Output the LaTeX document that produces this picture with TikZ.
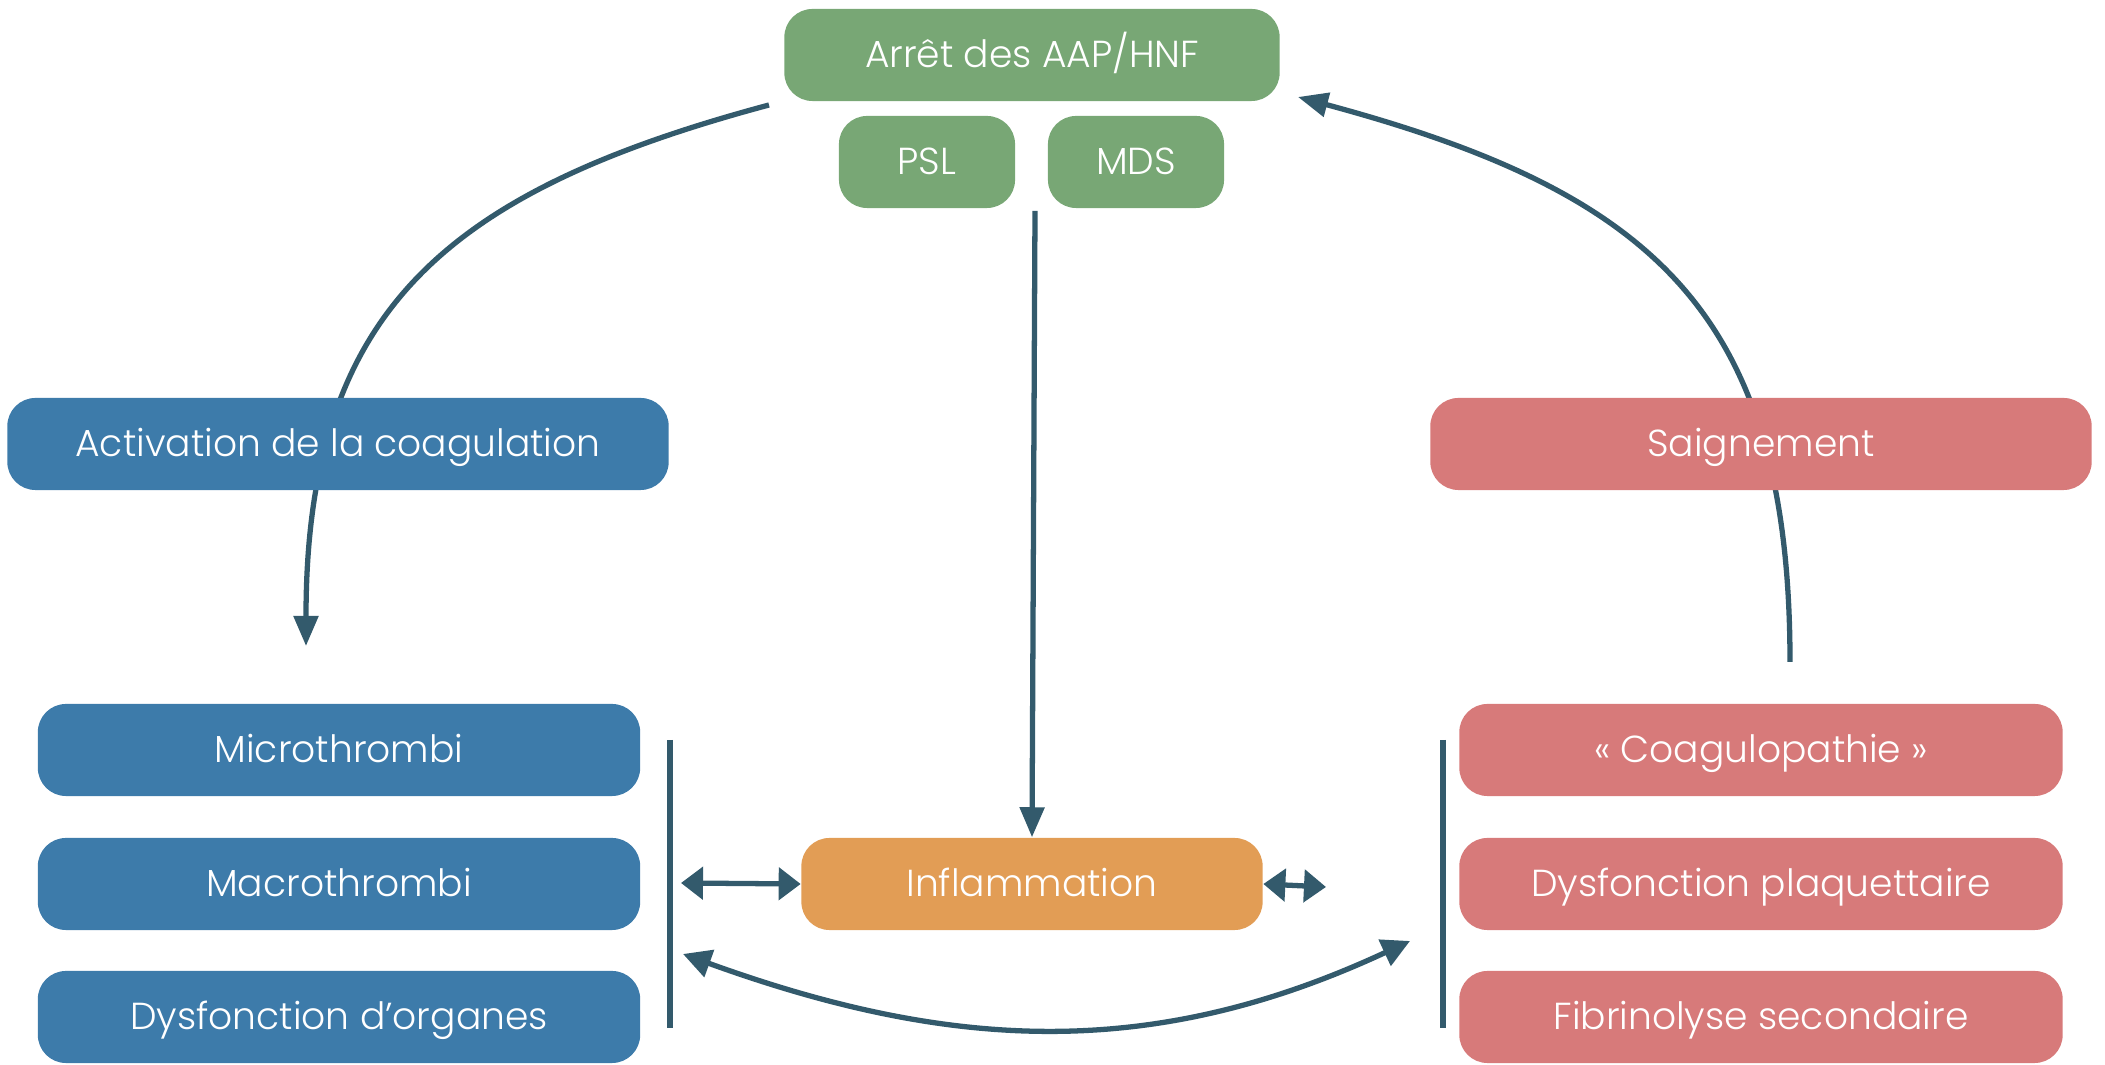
\documentclass[tikz,border=0pt]{standalone}
\usepackage{fontspec}
\setmainfont{Poppins}[UprightFont={* Light}]
\usetikzlibrary{positioning,backgrounds,arrows.meta}
\definecolor{aapgreen}{HTML}{78A775}
\definecolor{coagblue}{HTML}{3D7BAA}
\definecolor{bleedred}{HTML}{D77A7A}
\definecolor{inflorange}{HTML}{E29D55}
\definecolor{linkblue}{HTML}{335A6C}
\tikzset{
  grb/.style={fill=aapgreen, rounded corners=8pt, text=white, align=center,
    inner sep=0pt, minimum height=9.2mm, text height=0.7em, text depth=0pt},
  blb/.style={fill=coagblue, rounded corners=8pt, text=white, align=center,
    inner sep=0pt, minimum height=9.2mm, minimum width=6.02cm, text height=0.7em, text depth=0pt},
  rdb/.style={fill=bleedred, rounded corners=8pt, text=white, align=center,
    inner sep=0pt, minimum height=9.2mm, minimum width=6.03cm, text height=0.7em, text depth=0pt},
  orb/.style={fill=inflorange, rounded corners=8pt, text=white, align=center,
    inner sep=0pt, minimum height=9.2mm, text height=0.7em, text depth=0pt},
  flow/.style={-{Triangle[length=3mm, width=2.4mm]}, line width=1.5pt, draw=linkblue},
  dflow/.style={{Triangle[length=2.2mm, width=3.2mm]}-{Triangle[length=2.2mm, width=3.2mm]},
    line width=1.5pt, draw=linkblue},
  cflow/.style={{Triangle[length=2.8mm, width=2.8mm]}-{Triangle[length=2.8mm, width=2.8mm]},
    line width=1.5pt, draw=linkblue},
  bar/.style={line width=1.5pt, draw=linkblue},
}

\begin{document}
\begin{tikzpicture}[x=0.01cm, y=-0.01cm, font=\fontsize{10.7}{13}\selectfont]
  \useasboundingbox (0,0) rectangle (2105,1065);
  % top: measures
  \node[grb, minimum width=4.95cm] (arret) at (1032,55) {Arrêt des AAP/HNF};
  \node[grb, minimum width=1.76cm] (psl) at (927,162) {PSL};
  \node[grb, minimum width=1.76cm] (mds) at (1136,162) {MDS};
  % side headers
  \node[blb, minimum width=6.61cm] (activ) at (338,444) {Activation de la coagulation};
  \node[rdb, minimum width=6.61cm] (saign) at (1761,444) {Saignement};
  % left column
  \node[blb] (micro) at (339,750) {Microthrombi};
  \node[blb] (macro) at (339,884) {Macrothrombi};
  \node[blb] (organ) at (339,1017) {Dysfonction d’organes};
  % right column
  \node[rdb] (coagp) at (1761,750) {« Coagulopathie »};
  \node[rdb] (plaq) at (1761,884) {Dysfonction plaquettaire};
  \node[rdb] (fibri) at (1761,1017) {Fibrinolyse secondaire};
  % centre
  \node[orb, minimum width=4.61cm] (infl) at (1032,884) {Inflammation};

  \coordinate (lstart) at (769,105);
  \coordinate (lend) at (306,646);
  \coordinate (rstart) at (1790,662);
  \coordinate (rend) at (1298,97);
  \coordinate (mtop) at (1035,211);
  \coordinate (lbar) at (681,883);
  \coordinate (rtip) at (1326,887);
  \coordinate (bleft) at (683,954);
  \coordinate (bright) at (1410,941);

  \begin{scope}[on background layer]
    \draw[flow] (lstart) .. controls (445,192) and (306,311) .. (lend);
    \draw[flow] (rstart) .. controls (1790,311) and (1651,192) .. (rend);
  \end{scope}
  \draw[flow] (mtop) -- (infl.north);
  \draw[dflow] (lbar) -- (infl.west);
  \draw[dflow] (infl.east) -- (rtip);
  \draw[cflow] (bleft) .. controls (951,1051) and (1152,1061) .. (bright);
  \draw[bar] (670,740) -- (670,1028);
  \draw[bar] (1443,740) -- (1443,1028);
\end{tikzpicture}
\end{document}
